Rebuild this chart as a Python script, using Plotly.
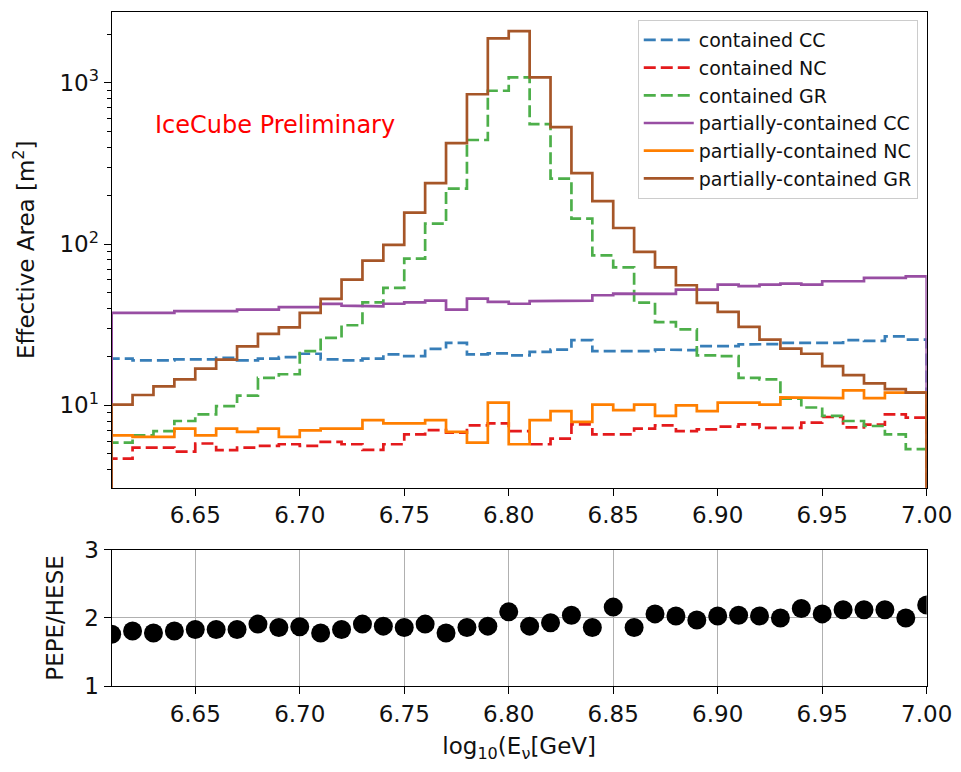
import numpy as np
import plotly.graph_objects as go

# log10(E / GeV) bin edges of the effective-area histograms
bin_edges = [round(6.61 + 0.01 * i, 2) for i in range(40)]

# Effective area per bin [m^2]
contained_cc = [19.5, 19.0, 19.0, 19.3, 19.3, 19.7, 19.0, 19.5, 19.9, 20.9,
                19.3, 19.0, 19.5, 20.7, 20.2, 22.4, 24.4, 20.7, 21.0, 20.4,
                21.5, 22.2, 25.4, 21.7, 21.7, 21.7, 22.2, 22.0, 23.3, 23.3,
                23.9, 24.0, 24.4, 24.4, 24.4, 25.4, 25.1, 26.8, 25.6]
contained_nc = [4.68, 5.47, 5.47, 5.16, 5.8, 5.28, 5.47, 5.6, 5.74, 5.6,
                5.93, 5.74, 5.3, 5.74, 6.6, 7.03, 6.77, 7.52, 7.74, 6.93,
                5.74, 6.22, 7.62, 6.6, 6.6, 7.17, 7.52, 6.93, 7.1, 7.38,
                7.62, 7.25, 7.25, 7.81, 8.47, 7.3, 7.6, 8.8, 8.4]
contained_gr = [5.88, 6.52, 6.93, 8.0, 8.8, 9.9, 11.5, 14.8, 15.6, 21.7,
                26.2, 31.4, 43.6, 53.6, 81.3, 134, 221, 443, 895, 1084,
                555, 255, 144, 85.3, 71.8, 43.4, 32.8, 29.6, 20.4, 20.2,
                14.8, 14.5, 11.0, 9.7, 8.6, 8.0, 7.45, 6.6, 5.35]
partial_cc = [37.5, 37.5, 37.5, 38.4, 38.4, 38.4, 39.3, 39.3, 40.7, 40.7,
              42.6, 41.6, 41.2, 42.7, 43.6, 44.7, 39.3, 46.0, 43.9, 42.7,
              44.3, 44.7, 44.7, 48.2, 49.3, 49.4, 49.2, 52.3, 52.3, 56.1,
              55.0, 56.1, 56.9, 56.1, 58.9, 58.9, 61.8, 61.8, 63.2]
partial_nc = [6.52, 6.37, 6.37, 7.17, 6.52, 7.17, 6.84, 7.17, 6.37, 7.0,
              7.17, 7.17, 8.1, 7.74, 7.74, 8.1, 6.84, 5.88, 10.4, 5.74,
              8.1, 9.2, 7.9, 10.1, 9.35, 10.1, 8.6, 10.0, 9.2, 10.4,
              10.4, 10.1, 11.2, 11.2, 11.1, 12.4, 11.1, 12.0, 12.0]
partial_gr = [10.1, 11.6, 13.1, 14.5, 16.9, 19.2, 23.2, 27.8, 30.5, 37.5,
              45.8, 60.3, 79, 99, 157, 239, 424, 851, 1893, 2100,
              1084, 532, 276, 185, 126, 89.6, 71.8, 55.6, 43.2, 38.0,
              30.7, 25.6, 22.5, 20.9, 17.5, 15.4, 13.7, 12.6, 12.0]

# PEPE / HESE ratio sampled at the bin edges
ratio_x = bin_edges
ratio = [1.76, 1.81, 1.78, 1.81, 1.83, 1.83, 1.83, 1.91, 1.86, 1.87,
         1.78, 1.83, 1.91, 1.88, 1.86, 1.91, 1.78, 1.86, 1.88, 2.09,
         1.88, 1.93, 2.04, 1.86, 2.16, 1.86, 2.06, 2.03, 1.97, 2.03,
         2.04, 2.03, 2.00, 2.14, 2.06, 2.12, 2.12, 2.12, 2.00, 2.19]

x_ticks = [6.65, 6.70, 6.75, 6.80, 6.85, 6.90, 6.95, 7.00]
x_ticktext = ["6.65", "6.70", "6.75", "6.80", "6.85", "6.90", "6.95", "7.00"]

series = [
    ("contained CC", contained_cc, "#377eb8", "dash"),
    ("contained NC", contained_nc, "#e41a1c", "dash"),
    ("contained GR", contained_gr, "#4daf4a", "dash"),
    ("partially-contained CC", partial_cc, "#984ea3", "solid"),
    ("partially-contained NC", partial_nc, "#ff7f00", "solid"),
    ("partially-contained GR", partial_gr, "#a65628", "solid"),
]

FONT = "DejaVu Sans"
TXT = "#111111"
FLOOR = 1.0  # below the visible range: closes the step outline at both ends


def step_outline(edges, values):
    """Outline of a step histogram (like histtype='step')."""
    xs, ys = [edges[0]], [FLOOR]
    for i, v in enumerate(values):
        xs += [edges[i], edges[i + 1]]
        ys += [v, v]
    xs.append(edges[len(values)])
    ys.append(FLOOR)
    return xs, ys


fig = go.Figure()

for i, (name, vals, color, dash) in enumerate(series):
    xs, ys = step_outline(bin_edges, vals)
    fig.add_trace(go.Scatter(
        x=xs, y=ys, mode="lines", name=name,
        line=dict(color=color, width=2.7,
                  dash="12px,5px" if dash == "dash" else "solid"),
        xaxis="x", yaxis="y",
    ))

fig.add_trace(go.Scatter(
    x=ratio_x, y=ratio, mode="markers", showlegend=False,
    marker=dict(color="black", size=19),
    xaxis="x2", yaxis="y2", cliponaxis=True,
))

# minor ticks for the log axis
minor_vals = [m * 10 ** k for k in range(0, 4) for m in range(2, 10)]

axis_common = dict(
    showline=True, linecolor="black", linewidth=1.3, mirror=True,
    ticks="outside", ticklen=7, tickwidth=1.3, tickcolor="black",
    tickfont=dict(family=FONT, size=23, color=TXT),
    zeroline=False, automargin=False,
)

fig.update_layout(
    template="none",
    width=961, height=772,
    margin=dict(l=0, r=0, t=0, b=0),
    paper_bgcolor="white", plot_bgcolor="white",
    font=dict(family=FONT, color=TXT),
    xaxis=dict(
        domain=[0.1162, 0.9643], anchor="y",
        range=[6.61, 7.00], tickmode="array",
        tickvals=x_ticks, ticktext=x_ticktext,
        showgrid=False, **axis_common,
    ),
    yaxis=dict(
        domain=[0.3683, 0.9848], anchor="x",
        type="log", range=[0.4895, 3.442],
        tickmode="array", tickvals=[10, 100, 1000],
        ticktext=["10<sup>1</sup>", "10<sup>2</sup>", "10<sup>3</sup>"],
        minor=dict(tickmode="array", tickvals=minor_vals, ticks="outside",
                   ticklen=4, tickwidth=1.1, tickcolor="black", showgrid=False),
        showgrid=False,
        title=dict(text="Effective Area [m<sup>2</sup>]",
                   font=dict(family=FONT, size=23, color=TXT),
                   standoff=18),
        **axis_common,
    ),
    xaxis2=dict(
        domain=[0.1162, 0.9643], anchor="y2",
        range=[6.61, 7.00], tickmode="array",
        tickvals=x_ticks, ticktext=x_ticktext,
        showgrid=True, gridcolor="#b0b0b0", gridwidth=1,
        title=dict(text="log<sub>10</sub>(E<sub>ν</sub>[GeV]",
                   font=dict(family=FONT, size=23, color=TXT),
                   standoff=12),
        **axis_common,
    ),
    yaxis2=dict(
        domain=[0.1114, 0.2876], anchor="x2",
        range=[1, 3], tickmode="array", tickvals=[1, 2, 3],
        ticktext=["1", "2", "3"],
        showgrid=True, gridcolor="#b0b0b0", gridwidth=1,
        title=dict(text="PEPE/HESE",
                   font=dict(family=FONT, size=23, color=TXT),
                   standoff=14),
        **axis_common,
    ),
    legend=dict(
        x=0.955, y=0.974, xanchor="right", yanchor="top",
        bgcolor="rgba(255,255,255,0.9)", bordercolor="#cccccc", borderwidth=1,
        font=dict(family=FONT, size=19, color=TXT),
        itemwidth=50,
    ),
    annotations=[dict(
        text="IceCube Preliminary", x=6.63, y=np.log10(550),
        xref="x", yref="y", xanchor="left", yanchor="middle",
        showarrow=False, font=dict(family=FONT, size=24, color="red"),
    )],
)

fig.write_html("out.html")
